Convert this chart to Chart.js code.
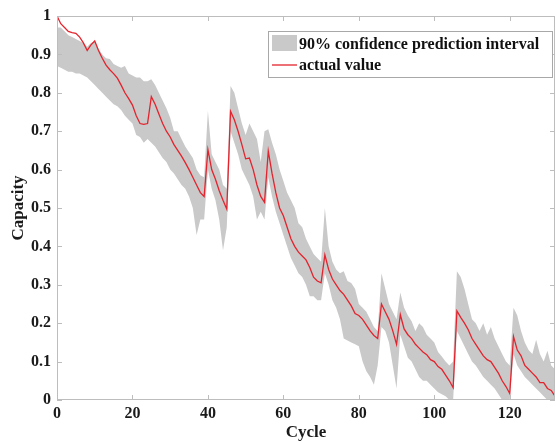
<!DOCTYPE html>
<html>
<head>
<meta charset="utf-8">
<script src="https://cdn.jsdelivr.net/npm/chart.js@4/dist/chart.umd.min.js"></script>
<style>
  body { margin: 0; background: #fff; }
  #wrap { width: 556px; height: 443px; position: relative; }
</style>
</head>
<body>
<div id="wrap"><canvas id="grafica"></canvas></div>
<script>
const cycles = [];
for (let c = 0; c <= 132; c++) cycles.push(c);

const actual = [
  1.0, 0.98, 0.97, 0.96, 0.957, 0.955, 0.945, 0.93, 0.91, 0.925,
  0.935, 0.91, 0.89, 0.872, 0.86, 0.85, 0.838, 0.82, 0.80, 0.785,
  0.768, 0.74, 0.72, 0.718, 0.72, 0.79, 0.77, 0.745, 0.72, 0.70,
  0.685, 0.665, 0.65, 0.635, 0.618, 0.60, 0.58, 0.56, 0.54, 0.53,
  0.652, 0.60, 0.575, 0.545, 0.52, 0.497, 0.752, 0.73, 0.70, 0.665,
  0.628, 0.63, 0.60, 0.56, 0.53, 0.515, 0.648, 0.59, 0.54, 0.50,
  0.48, 0.45, 0.42, 0.40, 0.385, 0.375, 0.365, 0.345, 0.32, 0.31,
  0.305, 0.378, 0.34, 0.315, 0.30, 0.285, 0.275, 0.26, 0.245, 0.225,
  0.22, 0.21, 0.195, 0.18, 0.168, 0.16, 0.25, 0.23, 0.21, 0.18,
  0.145, 0.222, 0.185, 0.17, 0.16, 0.145, 0.135, 0.125, 0.118, 0.105,
  0.10, 0.087, 0.08, 0.065, 0.05, 0.032, 0.232, 0.215, 0.20, 0.183,
  0.16, 0.145, 0.13, 0.115, 0.105, 0.10, 0.085, 0.07, 0.05, 0.035,
  0.017, 0.165, 0.13, 0.115, 0.09, 0.08, 0.07, 0.06, 0.045, 0.045,
  0.03, 0.025, 0.01
];

const upper = [
  0.97, 0.97, 0.96, 0.95, 0.945, 0.94, 0.935, 0.93, 0.92, 0.93,
  0.935, 0.915, 0.90, 0.89, 0.888, 0.875, 0.87, 0.865, 0.87, 0.85,
  0.845, 0.84, 0.84, 0.83, 0.83, 0.835, 0.82, 0.80, 0.78, 0.76,
  0.735, 0.70, 0.70, 0.68, 0.66, 0.645, 0.63, 0.60, 0.585, 0.58,
  0.753, 0.64, 0.62, 0.60, 0.56, 0.55, 0.818, 0.80, 0.76, 0.72,
  0.69, 0.72, 0.70, 0.68, 0.62, 0.70, 0.705, 0.67, 0.64, 0.60,
  0.57, 0.54, 0.52, 0.50, 0.46, 0.45, 0.42, 0.40, 0.38, 0.37,
  0.36, 0.50, 0.40, 0.36, 0.34, 0.33, 0.335, 0.31, 0.305, 0.29,
  0.25, 0.24, 0.23, 0.21, 0.19, 0.18, 0.33, 0.29, 0.25, 0.23,
  0.21, 0.28, 0.24, 0.22, 0.205, 0.18, 0.20, 0.19, 0.17, 0.16,
  0.15, 0.125, 0.113, 0.10, 0.09, 0.10, 0.335, 0.32, 0.29, 0.25,
  0.21, 0.20, 0.18, 0.20, 0.17, 0.19, 0.16, 0.14, 0.12, 0.10,
  0.09, 0.24, 0.22, 0.18, 0.15, 0.13, 0.12, 0.157, 0.12, 0.10,
  0.128, 0.09, 0.08
];

const lower = [
  0.87, 0.865, 0.86, 0.855, 0.855, 0.85, 0.85, 0.845, 0.84, 0.83,
  0.82, 0.81, 0.80, 0.79, 0.78, 0.77, 0.765, 0.755, 0.74, 0.73,
  0.72, 0.69, 0.685, 0.67, 0.68, 0.67, 0.66, 0.645, 0.63, 0.62,
  0.60, 0.59, 0.575, 0.56, 0.55, 0.53, 0.50, 0.43, 0.47, 0.47,
  0.60, 0.55, 0.52, 0.47, 0.39, 0.45, 0.70, 0.67, 0.64, 0.60,
  0.58, 0.56, 0.53, 0.47, 0.49, 0.47, 0.58, 0.53, 0.49, 0.46,
  0.43, 0.40, 0.37, 0.35, 0.33, 0.32, 0.30, 0.27, 0.27, 0.26,
  0.26, 0.33, 0.30, 0.26, 0.24, 0.21, 0.16, 0.155, 0.15, 0.145,
  0.14, 0.10, 0.075, 0.06, 0.04, 0.09, 0.19, 0.18, 0.15, 0.09,
  0.03, 0.17, 0.14, 0.11, 0.10, 0.08, 0.06, 0.05, 0.05, 0.04,
  0.03, 0.02, 0.015, 0.01, 0.0, 0.0, 0.18, 0.16, 0.14, 0.12,
  0.10, 0.09, 0.075, 0.06, 0.05, 0.04, 0.03, 0.015, 0.0, 0.0,
  0.0, 0.12, 0.09, 0.075, 0.06, 0.05, 0.04, 0.03, 0.02, 0.01,
  0.0, 0.0, 0.0
];

const xTicks = [0, 20, 40, 60, 80, 100, 120];
const yTicks = [0, 0.1, 0.2, 0.3, 0.4, 0.5, 0.6, 0.7, 0.8, 0.9, 1];
const yTickLabels = ['0', '0.1', '0.2', '0.3', '0.4', '0.5', '0.6', '0.7', '0.8', '0.9', '1'];

const bandLabel = '90% confidence prediction interval';
const lineLabel = 'actual value';

const fuente = 'Liberation Serif, Times New Roman, serif';
const grisBanda = '#c9c9c9';
const rojo = '#e4232d';
const grisMarco = '#bdbdbd';

const puntos = arr => cycles.map((c, i) => ({ x: c, y: arr[i] }));

// marco, marcas hacia dentro y leyenda
const marco = {
  id: 'marco',
  afterDraw(chart) {
    const { ctx, chartArea: a, scales: { x, y } } = chart;
    ctx.save();
    ctx.strokeStyle = grisMarco;
    ctx.lineWidth = 1;
    ctx.strokeRect(a.left + 0.5, a.top + 0.5, a.right - a.left - 1, a.bottom - a.top - 1);
    ctx.beginPath();
    xTicks.forEach(v => {
      const px = Math.round(x.getPixelForValue(v)) + 0.5;
      ctx.moveTo(px, a.bottom); ctx.lineTo(px, a.bottom - 5);
      ctx.moveTo(px, a.top); ctx.lineTo(px, a.top + 5);
    });
    yTicks.forEach(v => {
      const py = Math.round(y.getPixelForValue(v)) + 0.5;
      ctx.moveTo(a.left, py); ctx.lineTo(a.left + 5, py);
      ctx.moveTo(a.right, py); ctx.lineTo(a.right - 5, py);
    });
    ctx.stroke();

    // leyenda
    const lx = a.left + 211, ly = a.top + 15;
    const lw = a.right - 2 - lx, lh = 47;
    ctx.fillStyle = '#fff';
    ctx.fillRect(lx, ly, lw, lh);
    ctx.strokeStyle = '#a8a8a8';
    ctx.strokeRect(lx + 0.5, ly + 0.5, lw - 1, lh - 1);
    ctx.fillStyle = grisBanda;
    ctx.fillRect(lx + 4, ly + 4, 25, 16);
    ctx.strokeStyle = rojo;
    ctx.lineWidth = 1.3;
    ctx.beginPath();
    ctx.moveTo(lx + 4, ly + 34); ctx.lineTo(lx + 29, ly + 34);
    ctx.stroke();
    ctx.fillStyle = '#111';
    ctx.font = 'bold 16px ' + fuente;
    ctx.textBaseline = 'alphabetic';
    ctx.fillText(bandLabel, lx + 31, ly + 18);
    ctx.fillText(lineLabel, lx + 31, ly + 39);
    ctx.restore();
  }
};

new Chart(document.getElementById('grafica'), {
  type: 'line',
  data: {
    datasets: [
      {
        label: lineLabel,
        data: puntos(actual),
        borderColor: rojo,
        borderWidth: 1.3,
        pointRadius: 0,
        fill: false,
        tension: 0
      },
      {
        label: bandLabel,
        data: puntos(upper),
        borderWidth: 0,
        borderColor: 'rgba(0,0,0,0)',
        backgroundColor: grisBanda,
        pointRadius: 0,
        fill: '+1',
        tension: 0
      },
      {
        label: 'lower',
        data: puntos(lower),
        borderWidth: 0,
        borderColor: 'rgba(0,0,0,0)',
        pointRadius: 0,
        fill: false,
        tension: 0
      }
    ]
  },
  options: {
    responsive: true,
    maintainAspectRatio: false,
    animation: false,
    layout: { padding: { top: 16, right: 1, left: 0, bottom: 0 } },
    plugins: {
      legend: { display: false },
      tooltip: { enabled: false }
    },
    scales: {
      x: {
        type: 'linear',
        min: 0,
        max: 132,
        afterBuildTicks: s => { s.ticks = xTicks.map(v => ({ value: v })); },
        afterFit: s => { s.height = 43; },
        grid: { display: false, drawTicks: false },
        border: { display: false },
        ticks: {
          padding: 4,
          color: '#1a1a1a',
          font: { family: fuente, size: 16, weight: 'bold' },
          maxRotation: 0
        },
        title: {
          display: true,
          text: 'Cycle',
          color: '#1a1a1a',
          font: { family: fuente, size: 17, weight: 'bold' },
          padding: { top: 0, bottom: 0 }
        }
      },
      y: {
        min: 0,
        max: 1,
        afterBuildTicks: s => { s.ticks = yTicks.map(v => ({ value: v })); },
        afterFit: s => { s.width = 57; },
        grid: { display: false, drawTicks: false },
        border: { display: false },
        ticks: {
          padding: 6,
          color: '#1a1a1a',
          font: { family: fuente, size: 16, weight: 'bold' },
          callback: (v, i) => yTickLabels[i]
        },
        title: {
          display: true,
          text: 'Capacity',
          color: '#1a1a1a',
          font: { family: fuente, size: 17, weight: 'bold' },
          padding: { top: 8, bottom: 0 }
        }
      }
    }
  },
  plugins: [marco]
});
</script>
</body>
</html>
